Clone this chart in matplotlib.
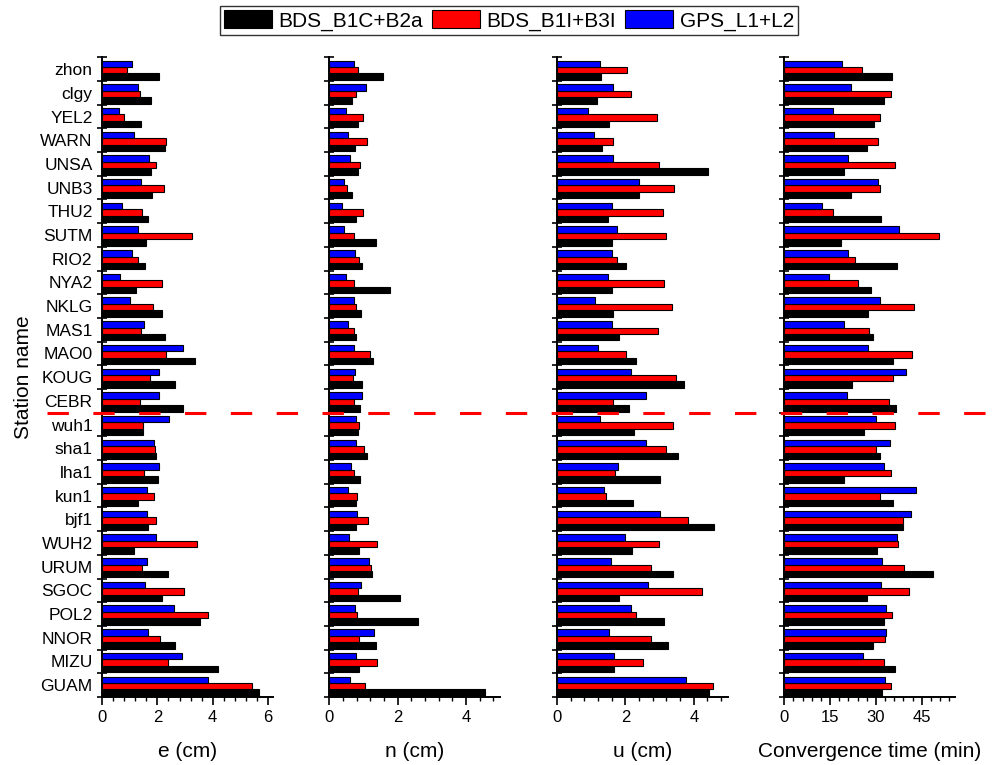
import matplotlib
matplotlib.use('Agg')
import matplotlib.pyplot as plt
import numpy as np
from matplotlib.lines import Line2D
from matplotlib.patches import Patch
from matplotlib.ticker import MultipleLocator, FixedLocator
import matplotlib.transforms as mtransforms

plt.rcParams['font.family'] = ['Liberation Sans', 'DejaVu Sans']

# ---------------- data (top to bottom as in the chart) ----------------
stations = ['zhon', 'clgy', 'YEL2', 'WARN', 'UNSA', 'UNB3', 'THU2', 'SUTM', 'RIO2',
            'NYA2', 'NKLG', 'MAS1', 'MAO0', 'KOUG', 'CEBR', 'wuh1', 'sha1', 'lha1',
            'kun1', 'bjf1', 'WUH2', 'URUM', 'SGOC', 'POL2', 'NNOR', 'MIZU', 'GUAM']

series_names = ['BDS_B1C+B2a', 'BDS_B1I+B3I', 'GPS_L1+L2']
series_colors = ['#000000', '#ff0000', '#0000ff']

e_b1c = [2.05, 1.77, 1.39, 2.28, 1.75, 1.79, 1.65, 1.59, 1.54, 1.21, 2.18, 2.27, 3.36, 2.64,
         2.92, 1.47, 1.96, 2.02, 1.28, 1.65, 1.14, 2.38, 2.16, 3.54, 2.64, 4.18, 5.68]
e_b1i = [0.88, 1.35, 0.79, 2.30, 1.94, 2.25, 1.43, 3.25, 1.31, 2.15, 1.85, 1.41, 2.30, 1.72,
         1.38, 1.47, 1.90, 1.53, 1.87, 1.94, 3.44, 1.43, 2.98, 3.83, 2.08, 2.38, 5.42]
e_gps = [1.07, 1.31, 0.62, 1.15, 1.68, 1.39, 0.73, 1.28, 1.09, 0.65, 1.02, 1.52, 2.92, 2.05,
         2.04, 2.41, 1.89, 2.06, 1.61, 1.61, 1.94, 1.62, 1.55, 2.59, 1.65, 2.88, 3.82]

n_b1c = [1.57, 0.66, 0.85, 0.76, 0.84, 0.66, 0.79, 1.38, 0.97, 1.77, 0.94, 0.79, 1.27, 0.95,
         0.91, 0.85, 1.11, 0.89, 0.79, 0.79, 0.87, 1.26, 2.06, 2.58, 1.38, 0.88, 4.54]
n_b1i = [0.85, 0.78, 0.99, 1.10, 0.90, 0.52, 0.98, 0.72, 0.88, 0.72, 0.78, 0.72, 1.19, 0.70,
         0.72, 0.87, 1.02, 0.72, 0.81, 1.13, 1.40, 1.23, 0.84, 0.81, 0.87, 1.40, 1.04]
n_gps = [0.72, 1.08, 0.48, 0.56, 0.61, 0.44, 0.37, 0.44, 0.76, 0.49, 0.72, 0.56, 0.72, 0.76,
         0.96, 0.78, 0.78, 0.64, 0.55, 0.81, 0.58, 1.17, 0.93, 0.74, 1.30, 0.78, 0.60]

u_b1c = [1.28, 1.18, 1.51, 1.31, 4.42, 2.40, 1.49, 1.61, 2.02, 1.61, 1.65, 1.81, 2.31, 3.71,
         2.11, 2.25, 3.53, 3.00, 2.22, 4.58, 2.19, 3.39, 1.81, 3.12, 3.24, 1.66, 4.43]
u_b1i = [2.06, 2.15, 2.93, 1.64, 2.97, 3.42, 3.09, 3.18, 1.75, 3.13, 3.37, 2.94, 2.02, 3.48,
         1.65, 3.39, 3.19, 1.69, 1.44, 3.82, 2.97, 2.76, 4.23, 2.30, 2.76, 2.51, 4.57]
u_gps = [1.25, 1.64, 0.91, 1.08, 1.64, 2.40, 1.61, 1.75, 1.61, 1.49, 1.10, 1.61, 1.20, 2.16,
         2.59, 1.26, 2.59, 1.78, 1.36, 3.00, 1.98, 1.58, 2.65, 2.16, 1.52, 1.66, 3.78]

t_b1c = [35.4, 32.8, 29.5, 27.1, 19.4, 22.0, 31.8, 18.7, 37.0, 28.3, 27.5, 28.9, 35.5, 22.2,
         36.6, 26.1, 31.5, 19.7, 35.5, 39.0, 30.2, 48.8, 27.1, 32.5, 29.2, 36.1, 32.1]
t_b1i = [25.4, 34.9, 31.3, 30.6, 36.2, 31.5, 15.8, 50.7, 23.0, 24.2, 42.5, 27.8, 41.9, 35.7,
         34.3, 36.2, 30.1, 35.0, 31.3, 38.9, 37.3, 39.2, 40.8, 35.4, 33.1, 32.5, 35.0]
t_gps = [18.8, 22.0, 15.8, 16.3, 20.9, 30.8, 12.3, 37.4, 20.9, 14.6, 31.2, 19.4, 27.5, 40.0,
         20.4, 30.0, 34.6, 32.8, 43.0, 41.6, 37.0, 32.1, 31.8, 33.4, 33.3, 25.7, 33.0]

xlabels = ['e (cm)', 'n (cm)', 'u (cm)', 'Convergence time (min)']
xlims = [6.2, 5.0, 5.0, 56.0]
xmajor = [2, 2, 2, 15]
xminor = [0.4, 0.4, 0.4, 3]
separator_after = 'CEBR'

panels = [(e_b1c, e_b1i, e_gps), (n_b1c, n_b1i, n_gps),
          (u_b1c, u_b1i, u_gps), (t_b1c, t_b1i, t_gps)]

# ---------------- figure ----------------
W, H = 992, 765
fig = plt.figure(figsize=(W / 100, H / 100), dpi=100)

lefts_px = [102.3, 329.3, 557.0, 784.3]
width_px = 171.0
top_px, bottom_px = 57.3, 697.0

nst = len(stations)
ypos = np.arange(nst)[::-1]          # first station at top
bh = 0.272
shift = -0.045
offsets = [-bh, 0.0, bh]             # black, red, blue (bottom -> top)

axes = []
for k, (vals, lp) in enumerate(zip(panels, lefts_px)):
    ax = fig.add_axes([lp / W, 1 - bottom_px / H, width_px / W, (bottom_px - top_px) / H])
    axes.append(ax)
    for s in range(3):
        ax.barh(ypos + offsets[s] + shift, vals[s], height=bh, color=series_colors[s],
                edgecolor='black', linewidth=0.8, zorder=2)
    ax.set_xlim(0, xlims[k])
    ax.set_ylim(-0.5, nst - 0.5)
    for sp in ['top', 'right']:
        ax.spines[sp].set_visible(False)
    for sp in ['left', 'bottom']:
        ax.spines[sp].set_linewidth(1.4)
    ax.xaxis.set_major_locator(MultipleLocator(xmajor[k]))
    ax.xaxis.set_minor_locator(MultipleLocator(xminor[k]))
    ax.tick_params(axis='x', which='major', direction='out', length=5.5, width=1.2,
                   labelsize=12, pad=4)
    ax.tick_params(axis='x', which='minor', direction='out', length=3.2, width=1.0)
    ax.set_yticks(ypos)
    ax.yaxis.set_minor_locator(FixedLocator(np.arange(-0.5, nst, 1.0)))
    ax.tick_params(axis='y', which='major', length=0, pad=7, labelsize=12.5)
    ax.tick_params(axis='y', which='minor', direction='inout', length=6.5, width=1.2)
    if k == 0:
        ax.set_yticklabels(stations)
        ax.set_ylabel('Station name', fontsize=15, labelpad=5)
    else:
        ax.set_yticklabels([])
    ax.set_xlabel(xlabels[k], fontsize=15, labelpad=12)

# dashed separator line between groups, across the whole figure
sep_idx = stations.index(separator_after)
sep_y = ypos[sep_idx] - 0.5
trans = mtransforms.blended_transform_factory(fig.transFigure, axes[0].transData)
line = Line2D([47 / W, 1.0], [sep_y, sep_y], transform=trans, color='#ff0000',
              linewidth=2.2, dashes=(7.0, 8.0), clip_on=False, zorder=10)
fig.add_artist(line)

# legend
handles = [Patch(facecolor=c, edgecolor='black', linewidth=0.8) for c in series_colors]
leg = fig.legend(handles, series_names, loc='upper center', bbox_to_anchor=(0.513, 0.992),
                 ncol=3, fontsize=15, frameon=True, fancybox=False, edgecolor='black',
                 handlelength=2.3, handleheight=0.95, handletextpad=0.3, columnspacing=0.45,
                 borderpad=0.2, borderaxespad=0.0)
leg.get_frame().set_linewidth(1.0)

fig.savefig('out.png', dpi=100)
